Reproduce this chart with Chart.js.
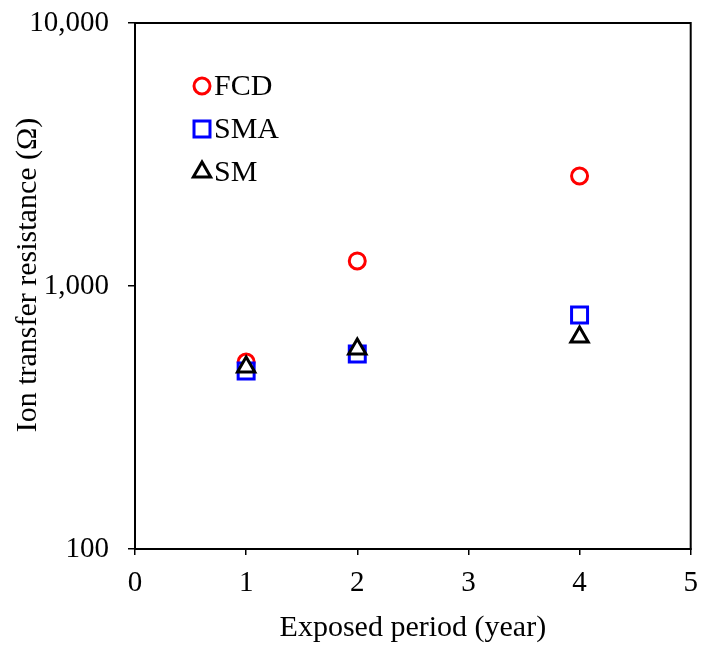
<!DOCTYPE html>
<html>
<head>
<meta charset="utf-8">
<script src="https://cdn.jsdelivr.net/npm/chart.js@4"></script>
<style>
  html, body { margin: 0; padding: 0; background: #fff; }
  #wrap { width: 705px; height: 650px; }
</style>
</head>
<body>
<div id="wrap"><canvas id="myChart" width="705" height="650"></canvas></div>
<script>
// exposed period (year)
const years = [1, 2, 4];
// ion transfer resistance (ohm)
const fcd = [514, 1245, 2620];
const sma = [475, 551, 776];
const sm = [492, 576, 640];
const yTicks = [100, 1000, 10000];
const xTicks = [0, 1, 2, 3, 4, 5];
const yTitle = 'Ion transfer resistance (\u03A9)';

const fontFam = '"Liberation Serif", "Times New Roman", serif';

function pts(vals){
    return years.map((x, i) => ({ x: x, y: vals[i] }));
}

// plot frame, y title and legend drawn inside the plot, top-left
const insideLegend = {
    id: 'insideLegend',
    afterDraw(chart){
        const ctx = chart.ctx;
        const a = chart.chartArea;
        ctx.save();
        ctx.strokeStyle = '#000';
        ctx.lineWidth = 2;
        ctx.strokeRect(a.left, a.top, a.right - a.left, a.bottom - a.top);
        ctx.restore();

        // y title sits a little above the axis middle in the original
        ctx.save();
        ctx.translate(28, 275);
        ctx.rotate(-Math.PI / 2);
        ctx.font = '30px ' + fontFam;
        ctx.textAlign = 'center';
        ctx.textBaseline = 'middle';
        ctx.fillStyle = '#000';
        ctx.fillText(yTitle, 0, 0);
        ctx.restore();

        const names = ['FCD', 'SMA', 'SM'];
        const rows = [86, 129, 172];
        names.forEach((n, i) => {
            const ds = chart.data.datasets.find(d => d.label === n);
            ctx.save();
            ctx.fillStyle = '#fff';
            ctx.strokeStyle = ds.borderColor;
            ctx.lineWidth = ds.borderWidth;
            Chart.helpers.drawPoint(ctx, {
                pointStyle: ds.pointStyle,
                radius: ds.pointRadius,
                borderWidth: ds.borderWidth,
                rotation: 0
            }, 202, rows[i]);
            ctx.font = '30px ' + fontFam;
            ctx.textBaseline = 'middle';
            ctx.fillStyle = '#000';
            ctx.fillText(n, 214, rows[i] + 1);
            ctx.restore();
        });
    }
};

const ctx = document.getElementById('myChart').getContext('2d');
new Chart(ctx, {
    type: 'scatter',
    data: {
        datasets: [
            {
                label: 'FCD',
                data: pts(fcd),
                pointStyle: 'circle',
                pointRadius: 8,
                borderWidth: 3,
                borderColor: '#ff0000',
                backgroundColor: '#ffffff',
                order: 2
            },
            {
                label: 'SMA',
                data: pts(sma),
                pointStyle: 'rect',
                pointRadius: 11.3,
                borderWidth: 3,
                borderColor: '#0000ff',
                backgroundColor: '#ffffff',
                order: 1
            },
            {
                label: 'SM',
                data: pts(sm),
                pointStyle: 'triangle',
                pointRadius: 10,
                borderWidth: 3,
                borderColor: '#000000',
                backgroundColor: '#ffffff',
                order: 0
            }
        ]
    },
    options: {
        responsive: false,
        animation: false,
        layout: { padding: { left: 0, right: 11, top: 23, bottom: 0 } },
        plugins: {
            legend: { display: false },
            tooltip: { enabled: false }
        },
        scales: {
            x: {
                type: 'linear',
                min: 0,
                max: 5,
                afterBuildTicks: (ax) => { ax.ticks = xTicks.map(v => ({ value: v })); },
                afterFit: (ax) => { ax.height = 101; ax.paddingLeft = 0; ax.paddingRight = 0; },
                ticks: {
                    color: '#000',
                    font: { family: fontFam, size: 29 },
                    padding: 11,
                    maxRotation: 0
                },
                grid: {
                    drawOnChartArea: false,
                    color: '#000',
                    lineWidth: 1.5,
                    tickLength: 6
                },
                border: { color: '#000', width: 2 },
                title: {
                    display: true,
                    text: 'Exposed period (year)',
                    color: '#000',
                    font: { family: fontFam, size: 30 },
                    padding: { top: 0, bottom: 4 }
                }
            },
            y: {
                type: 'logarithmic',
                min: 100,
                max: 10000,
                afterBuildTicks: (ax) => { ax.ticks = yTicks.map(v => ({ value: v })); },
                afterFit: (ax) => { ax.width = 135; ax.paddingTop = 0; ax.paddingBottom = 0; },
                ticks: {
                    color: '#000',
                    font: { family: fontFam, size: 29 },
                    padding: 19,
                    callback: (v) => v.toLocaleString('en-US')
                },
                grid: {
                    drawOnChartArea: false,
                    color: '#000',
                    lineWidth: 1.5,
                    tickLength: 7
                },
                border: { color: '#000', width: 2 },
                title: { display: false }
            }
        }
    },
    plugins: [insideLegend]
});
</script>
</body>
</html>
